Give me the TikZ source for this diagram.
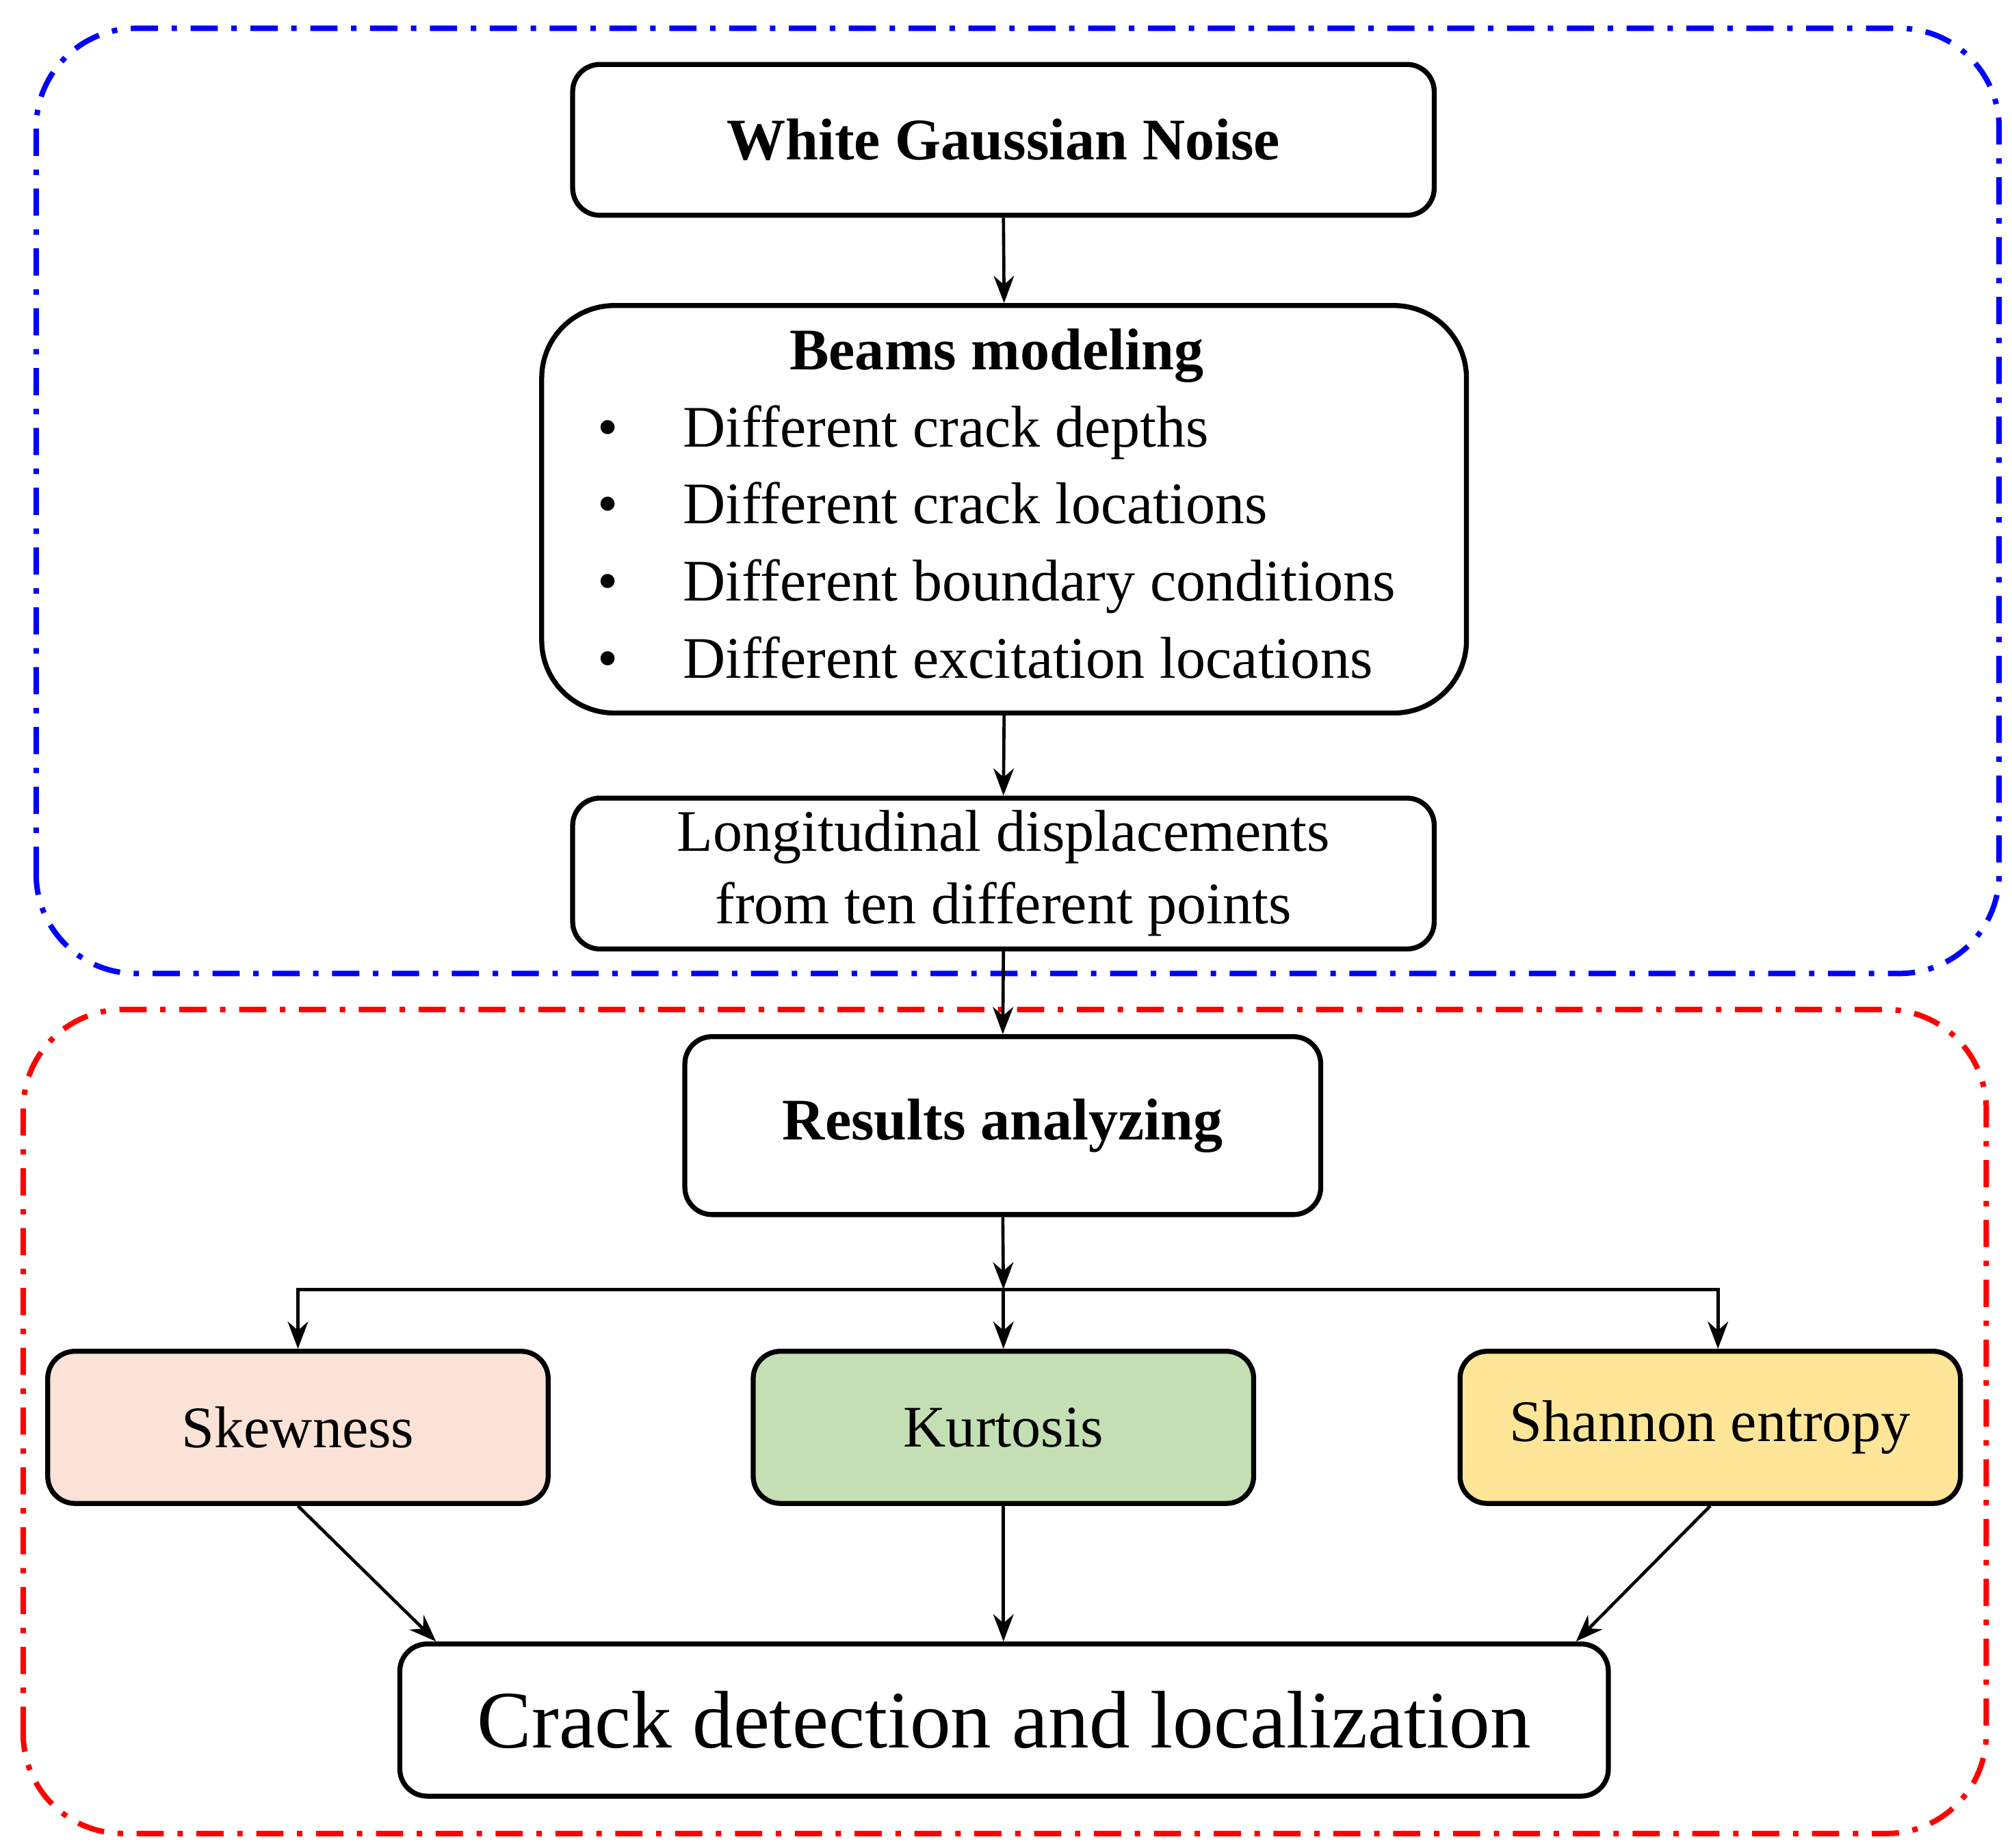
\documentclass[tikz,border=0pt]{standalone}
\usepackage{fontspec}
\setmainfont{Liberation Serif}
\usetikzlibrary{arrows.meta, positioning}

\begin{document}
\begin{tikzpicture}[
		% Defining consistent styles
		stepbox/.style={
				rectangle,
				rounded corners=6pt,
				draw=black,
				line width=1.1pt,
				align=center,
				font=\fontsize{13}{16}\selectfont,
				fill=white,
				inner sep=0pt
			},
		measurebox/.style={
				stepbox,
				minimum width=3.88cm,
				minimum height=1.18cm
			},
		groupframe/.style={
				rounded corners=22pt,
				line width=1.2pt,
				dash pattern=on 6pt off 3pt on 1.2pt off 3pt
			},
		% Defining arrow styles
		arrow/.style={
				-{Stealth[length=6pt,width=4.5pt]},
				line width=0.7pt,
				draw=black
			}
		]
		\useasboundingbox (0,0) rectangle (15.6,14.33);

		% Group frames
		\draw[groupframe, blue] (0.28,6.78) rectangle (15.5,14.11);
		\draw[groupframe, red] (0.18,0.11) rectangle (15.4,6.5);

		% Modeling part
		\node[stepbox, minimum width=6.68cm, minimum height=1.17cm] (noise) at (7.78,13.245) {\textbf{White Gaussian Noise}};

		\node[stepbox, rounded corners=16pt, minimum width=7.17cm, minimum height=3.16cm] (beams) at (7.785,10.38) {
				\begin{tabular}{@{}l@{\hspace{1.1em}}l@{}}
					\multicolumn{2}{c}{\textbf{Beams modeling}} \\[1pt]
					\textbullet & Different crack depths \\[1pt]
					\textbullet & Different crack locations \\[1pt]
					\textbullet & Different boundary conditions \\[1pt]
					\textbullet & Different excitation locations
				\end{tabular}
			};

		\node[stepbox, minimum width=6.68cm, minimum height=1.17cm] (displ) at (7.78,7.555) {
				Longitudinal displacements \\
				from ten different points
			};

		% Analysis part
		\node[stepbox, minimum width=4.93cm, minimum height=1.38cm] (results) at (7.775,5.60) {\textbf{Results analyzing}};

		\node[measurebox, fill={rgb,255:red,250;green,227;blue,214}] (skew) at (2.31,3.26) {Skewness};
		\node[measurebox, fill={rgb,255:red,197;green,223;blue,180}] (kurt) at (7.78,3.26) {Kurtosis};
		\node[measurebox, fill={rgb,255:red,255;green,229;blue,152}] (shannon) at (13.26,3.26) {Shannon entropy};

		\node[stepbox, minimum width=9.37cm, minimum height=1.18cm, font=\fontsize{18}{22}\selectfont] (crack) at (7.785,0.99) {Crack detection and localization};

		\coordinate (split) at (7.78,4.33);

		% Drawing main flow arrows
		\draw[arrow] (noise.south) -- (beams.north);
		\draw[arrow] (beams.south) -- (displ.north);
		\draw[arrow] (displ.south) -- (results.north);
		\draw[arrow] (results.south) -- (split);

		% Drawing branch arrows
		\draw[arrow] (split) -| (skew.north);
		\draw[arrow] (split) -- (kurt.north);
		\draw[arrow] (split) -| ([xshift=0.06cm]shannon.north);

		% Drawing merge arrows
		\draw[arrow] (skew.south) -- ([xshift=0.3cm]crack.north west);
		\draw[arrow] (kurt.south) -- (kurt.south |- crack.north);
		\draw[arrow] (shannon.south) -- ([xshift=-0.27cm]crack.north east);

	\end{tikzpicture}
\end{document}
